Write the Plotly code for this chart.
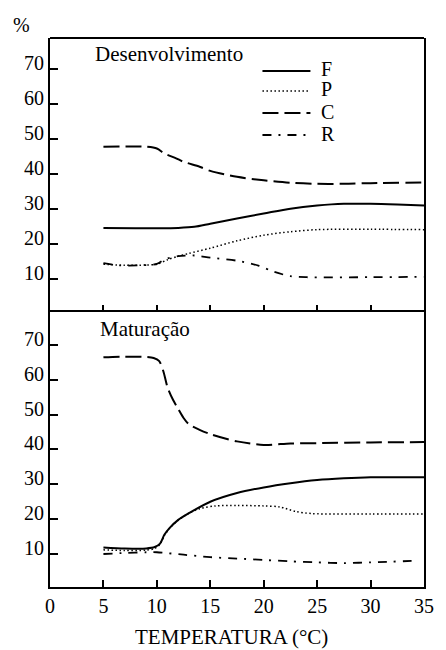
import plotly.graph_objects as go

# Desenvolvimento (top panel)
dev_F_t = [5, 8, 10, 12, 13.5, 15, 17.5, 20, 22.5, 25, 27.5, 30, 32.5, 35]
dev_F = [24.7, 24.6, 24.6, 24.7, 25.0, 25.9, 27.4, 28.8, 30.2, 31.1, 31.6, 31.6, 31.4, 31.1]

dev_P_t = [5, 7, 9, 10, 11, 12, 13, 15, 17.5, 20, 22.5, 25, 30, 35]
dev_P = [14.3, 14.0, 14.1, 14.3, 15.6, 16.6, 17.4, 18.9, 21.0, 22.6, 23.6, 24.2, 24.3, 24.2]

dev_C_t = [5, 7.5, 9, 10, 10.7, 11.8, 12.5, 14, 15, 17.5, 20, 22.5, 25, 27.5, 30, 35]
dev_C = [47.9, 48.0, 47.9, 47.4, 46.0, 44.6, 43.6, 42.2, 41.0, 39.3, 38.3, 37.6, 37.3, 37.3, 37.5, 37.7]

dev_R_t = [5, 6.5, 8.5, 10, 10.8, 12, 13.5, 15, 17.5, 19.5, 21, 22.5, 24, 30, 35]
dev_R = [14.6, 14.0, 14.0, 14.4, 15.8, 16.6, 16.8, 16.2, 15.3, 13.9, 12.1, 10.9, 10.6, 10.6, 10.7]

# Maturação (bottom panel)
mat_F_t = [5, 7, 9, 9.8, 10.3, 10.7, 11.2, 12, 13, 15, 17.5, 20, 22.5, 25, 27.5, 30, 35]
mat_F = [11.9, 11.6, 11.6, 12.0, 13.0, 15.5, 17.5, 19.8, 21.7, 25.0, 27.5, 29.1, 30.3, 31.2, 31.7, 32.0, 32.0]

mat_P_t = [5, 7, 9, 9.8, 10.3, 10.7, 11.2, 12, 13, 14, 15.5, 17.5, 20, 21.5, 23, 24.5, 30, 35]
mat_P = [11.2, 11.0, 11.1, 11.6, 12.8, 15.3, 17.4, 19.7, 21.7, 23.0, 23.8, 23.9, 23.8, 23.5, 22.2, 21.6, 21.5, 21.5]

mat_C_t = [5, 7, 9, 9.7, 10.2, 10.6, 11, 11.5, 12, 12.5, 13, 14, 15, 17.5, 20, 22.5, 25, 30, 35]
mat_C = [66.4, 66.6, 66.5, 66.2, 65.4, 62.5, 57.8, 54.3, 51.6, 49.0, 47.2, 45.6, 44.4, 42.3, 41.3, 41.7, 41.8, 42.0, 42.1]

mat_R_t = [5, 7, 9, 10, 12.5, 15, 17.5, 20, 22.5, 25, 27.5, 30, 34.5]
mat_R = [10.0, 10.3, 10.5, 10.5, 9.8, 9.1, 8.7, 8.3, 7.9, 7.6, 7.4, 7.6, 8.1]

series_names = ["F", "P", "C", "R"]
x_ticks = [0, 5, 10, 15, 20, 25, 30, 35]
y_ticks = [10, 20, 30, 40, 50, 60, 70]

FONT = "Liberation Serif"
styles = {
    "F": dict(color="black", width=2, dash="solid"),
    "P": dict(color="black", width=1.5, dash="1.5px,2.5px"),
    "C": dict(color="black", width=2, dash="16px,6px"),
    "R": dict(color="black", width=1.8, dash="9px,7px,2px,7px"),
}

fig = go.Figure()

top = {"F": (dev_F_t, dev_F), "P": (dev_P_t, dev_P), "C": (dev_C_t, dev_C), "R": (dev_R_t, dev_R)}
bottom = {"F": (mat_F_t, mat_F), "P": (mat_P_t, mat_P), "C": (mat_C_t, mat_C), "R": (mat_R_t, mat_R)}

for name in series_names:
    t, v = top[name]
    fig.add_trace(go.Scatter(x=t, y=v, mode="lines", name=name,
                             line=dict(shape="spline", smoothing=0.8, **styles[name]),
                             xaxis="x2", yaxis="y2", showlegend=False))
for name in series_names:
    t, v = bottom[name]
    fig.add_trace(go.Scatter(x=t, y=v, mode="lines", name=name,
                             line=dict(shape="spline", smoothing=0.8, **styles[name]),
                             xaxis="x", yaxis="y", showlegend=False))

axis_common = dict(linecolor="black", linewidth=2, mirror=True,
                   ticks="inside", tickcolor="black", tickwidth=1.8, showgrid=False, zeroline=False,
                   tickfont=dict(family=FONT, size=20, color="black"))

# y labels sit well left of the frame and a little above their ticks
y_label_pos = dict(ticksuffix="\u00a0\u00a0", ticklabelshift=-6)

split = 0.5015
fig.update_layout(
    width=446, height=650,
    margin=dict(l=50, r=14, t=38, b=63),
    plot_bgcolor="white", paper_bgcolor="white",
    font=dict(family=FONT, color="black"),
    xaxis=dict(range=[0, 35], domain=[0, 1], anchor="y", tickvals=x_ticks, ticklen=7,
               showline=True, **axis_common),
    # the shared border between panels comes from the bottom panel's mirrored line
    xaxis2=dict(range=[0, 35], domain=[0, 1], anchor="y2", tickvals=x_ticks[1:-1], ticklen=7,
                showline=False, showticklabels=False, **axis_common),
    yaxis=dict(range=[0.54, 79.5], domain=[0, split], anchor="x", tickvals=y_ticks, ticklen=8,
               showline=True, **y_label_pos, **axis_common),
    yaxis2=dict(range=[0.74, 79.0], domain=[split, 1], anchor="x2", tickvals=y_ticks, ticklen=8,
                showline=True, **y_label_pos, **axis_common),
    showlegend=False,
)

# top border of the upper panel
fig.add_shape(type="line", xref="paper", yref="paper", x0=0, x1=1, y0=1, y1=1,
              line=dict(color="black", width=2))


def px_to_paper(px, py):
    return (px - 50) / 382, (587 - py) / 549


annotations = []
ax, ay = px_to_paper(21, 25)
annotations.append(dict(text="%", x=ax, y=ay, xref="paper", yref="paper", showarrow=False,
                        xanchor="center", yanchor="middle", font=dict(family=FONT, size=20, color="black")))
ax, ay = px_to_paper(94, 54)
annotations.append(dict(text="Desenvolvimento", x=ax, y=ay, xref="paper", yref="paper", showarrow=False,
                        xanchor="left", yanchor="middle", font=dict(family=FONT, size=21, color="black")))
ax, ay = px_to_paper(99, 329)
annotations.append(dict(text="Maturação", x=ax, y=ay, xref="paper", yref="paper", showarrow=False,
                        xanchor="left", yanchor="middle", font=dict(family=FONT, size=21, color="black")))
ax, ay = px_to_paper(235, 637)
annotations.append(dict(text="TEMPERATURA (°C)", x=ax, y=ay, xref="paper", yref="paper", showarrow=False,
                        xanchor="center", yanchor="middle", font=dict(family=FONT, size=21, color="black")))

# legend keys
shapes = []
legend_rows = [("F", 71), ("P", 91), ("C", 113), ("R", 135)]
for name, py in legend_rows:
    x0, y0 = px_to_paper(267, py)
    x1, _ = px_to_paper(316, py)
    st = styles[name]
    shapes.append(dict(type="line", xref="paper", yref="paper", x0=x0, x1=x1, y0=y0, y1=y0,
                       line=dict(color=st["color"], width=st["width"], dash=st["dash"])))
    lx, ly = px_to_paper(325, py - 1.5)
    annotations.append(dict(text=name, x=lx, y=ly, xref="paper", yref="paper", showarrow=False,
                            xanchor="left", yanchor="middle", font=dict(family=FONT, size=20, color="black")))

fig.update_layout(annotations=annotations)
for s in shapes:
    fig.add_shape(**s)
fig.write_html("out.html")
